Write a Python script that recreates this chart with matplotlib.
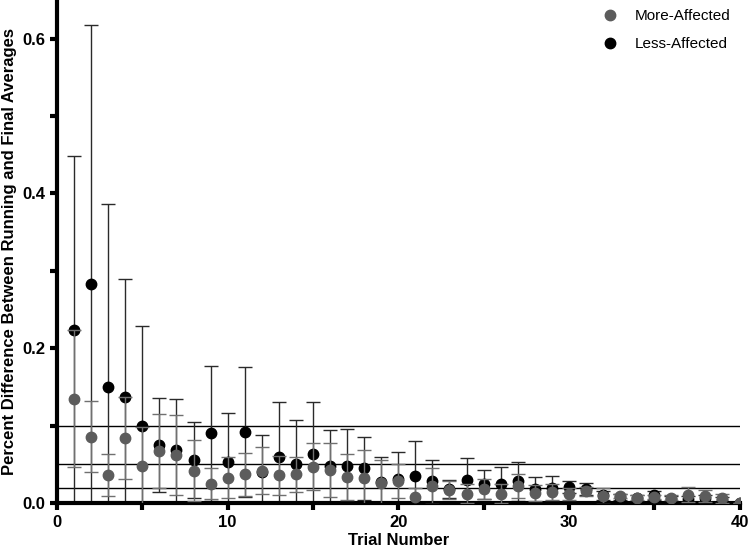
import numpy as np
import matplotlib
matplotlib.use('Agg')
import matplotlib.pyplot as plt
from matplotlib.ticker import MultipleLocator
from matplotlib.lines import Line2D

# Datos
ensayos = np.arange(1, 41)

media_less = [0.224, 0.283, 0.150, 0.137, 0.100, 0.075, 0.068, 0.056, 0.090, 0.053,
              0.092, 0.040, 0.059, 0.051, 0.064, 0.048, 0.048, 0.045, 0.027, 0.031,
              0.035, 0.028, 0.018, 0.030, 0.024, 0.024, 0.028, 0.018, 0.019, 0.021,
              0.018, 0.010, 0.008, 0.007, 0.010, 0.005, 0.005, 0.006, 0.004, 0.000]
sd_less = [0.224, 0.335, 0.236, 0.153, 0.129, 0.061, 0.066, 0.049, 0.087, 0.064,
           0.084, 0.048, 0.071, 0.056, 0.067, 0.047, 0.048, 0.041, 0.032, 0.035,
           0.045, 0.027, 0.012, 0.028, 0.019, 0.022, 0.025, 0.016, 0.016, 0.008,
           0.008, 0.006, 0.004, 0.004, 0.006, 0.004, 0.004, 0.005, 0.004, 0.000]

media_more = [0.135, 0.086, 0.036, 0.084, 0.048, 0.067, 0.062, 0.042, 0.025, 0.033,
              0.037, 0.042, 0.036, 0.037, 0.047, 0.043, 0.034, 0.032, 0.026, 0.028,
              0.008, 0.022, 0.017, 0.012, 0.018, 0.012, 0.022, 0.013, 0.014, 0.012,
              0.015, 0.009, 0.009, 0.007, 0.008, 0.007, 0.011, 0.009, 0.006, 0.0005]
sd_more = [0.089, 0.046, 0.027, 0.053, 0.050, 0.048, 0.052, 0.039, 0.020, 0.027,
           0.028, 0.030, 0.025, 0.023, 0.030, 0.035, 0.030, 0.037, 0.030, 0.022,
           0.012, 0.023, 0.012, 0.012, 0.013, 0.012, 0.015, 0.010, 0.010, 0.008,
           0.006, 0.010, 0.003, 0.003, 0.003, 0.003, 0.010, 0.008, 0.006, 0.000]

lineas_ref = [0.1, 0.05, 0.02]

gris = '#5c5c5c'

plt.rcParams['font.family'] = ['Liberation Sans', 'DejaVu Sans']

fig = plt.figure(figsize=(7.5, 5.48), dpi=100)
ax = fig.add_axes([0.076, 0.082, 0.910, 0.918])

# Líneas de referencia
for y in lineas_ref:
    ax.plot([0, 40], [y, y], color='black', lw=1, zorder=1)

ax.errorbar(ensayos, media_less, yerr=sd_less, fmt='o', color='black', ecolor='#2a2a2a',
            elinewidth=1, capsize=5, capthick=1, markersize=7.5, zorder=2)
ax.errorbar(ensayos, media_more, yerr=sd_more, fmt='o', color=gris, ecolor='#707070',
            elinewidth=1, capsize=5, capthick=1, markersize=7.5, zorder=3)

ax.set_xlim(0, 40)
ax.set_ylim(0, 0.65)
ax.xaxis.set_major_locator(MultipleLocator(10))
ax.xaxis.set_minor_locator(MultipleLocator(5))
ax.yaxis.set_major_locator(MultipleLocator(0.2))
ax.yaxis.set_minor_locator(MultipleLocator(0.1))
ax.yaxis.set_major_formatter(matplotlib.ticker.FormatStrFormatter('%.1f'))

for s in ['top', 'right']:
    ax.spines[s].set_visible(False)
for s in ['left', 'bottom']:
    ax.spines[s].set_linewidth(3)
ax.tick_params(which='both', width=3, length=5, direction='out')
for lab in ax.get_xticklabels() + ax.get_yticklabels():
    lab.set_fontweight('bold')
    lab.set_fontsize(12)

ax.set_xlabel('Trial Number', fontsize=12, fontweight='bold', labelpad=2)
ax.set_ylabel('Percent Difference Between Running and Final Averages', fontsize=12,
              fontweight='bold', labelpad=4)

# Leyenda solo con los marcadores
manejadores = [Line2D([], [], marker='o', ls='none', color=gris, markersize=7.5),
               Line2D([], [], marker='o', ls='none', color='black', markersize=7.5)]
ax.legend(manejadores, ['More-Affected', 'Less-Affected'], loc='upper right', frameon=False,
          prop={'size': 11}, handletextpad=0.6, labelspacing=0.9, borderaxespad=0.2)

fig.savefig('out.png', dpi=100)
